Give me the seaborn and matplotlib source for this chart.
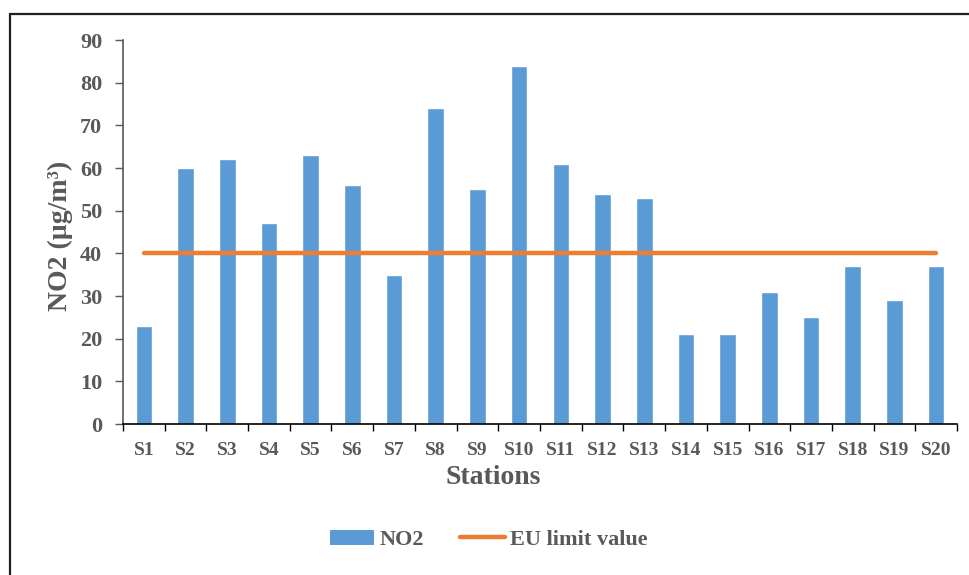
import numpy as np
import pandas as pd
import matplotlib
matplotlib.use("Agg")
import matplotlib.pyplot as plt
import seaborn as sns
from matplotlib.patches import Rectangle, Patch
from matplotlib.lines import Line2D

stations = ["S%d" % i for i in range(1, 21)]
no2 = [23, 60, 62, 47, 63, 56, 35, 74, 55, 84, 61, 54, 53, 21, 21, 31, 25, 37, 29, 37]
eu_limit = [40] * 20

df = pd.DataFrame({"station": stations, "no2": no2, "limit": eu_limit})

sns.set_style("white")
plt.rcParams["font.family"] = ["Liberation Serif", "DejaVu Serif"]
plt.rcParams["font.weight"] = "bold"

grey = "#595959"
blue = "#5B9BD5"
orange = "#ED7D31"

fig = plt.figure(figsize=(9.7, 5.75), dpi=100)
ax = fig.add_axes([0.1268, 0.2626, 0.8598, 0.6678])

sns.barplot(data=df, x="station", y="no2", color=blue, width=0.4, saturation=1, ax=ax)
ax.plot(np.arange(len(stations)), df["limit"], color=orange, lw=3.2,
        solid_capstyle="round", zorder=3)

ax.set_ylim(0, 90)
ax.set_xlim(-0.5, len(stations) - 0.5)
ax.set_yticks(np.arange(0, 91, 10))
ax.tick_params(axis="y", length=6, width=1, color=grey, labelsize=16, labelcolor=grey, pad=9, left=True)
for t in ax.get_yticklabels():
    t.set_fontweight("bold")

# category labels centered, ticks between categories
ax.set_xticks(np.arange(len(stations)))
ax.set_xticklabels(stations, fontweight="bold")
ax.tick_params(axis="x", which="major", length=0, labelsize=14, labelcolor=grey, pad=13)
ax.set_xticks(np.arange(-0.5, len(stations)), minor=True)
ax.tick_params(axis="x", which="minor", length=5, width=1, color="black", bottom=True)

for s in ["top", "right"]:
    ax.spines[s].set_visible(False)
ax.spines["left"].set_color(grey)
ax.spines["left"].set_linewidth(1.2)
ax.spines["bottom"].set_color("black")
ax.spines["bottom"].set_linewidth(1.2)

ax.set_xlabel("Stations", fontsize=20, fontweight="bold", color=grey)
ax.xaxis.set_label_coords(0.444, -0.108)
ax.set_ylabel("NO2 (µg/m³)", fontsize=20, fontweight="bold", color=grey)
ax.yaxis.set_label_coords(-0.06, 0.49)

handles = [Patch(facecolor=blue, edgecolor="none"),
           Line2D([0], [0], color=orange, lw=3.2, solid_capstyle="round")]
fig.legend(handles, ["NO2", "EU limit value"], loc="center", bbox_to_anchor=(0.504, 0.061),
           ncol=2, frameon=False, prop={"size": 16, "weight": "bold"},
           labelcolor=grey, handlelength=2.0, handleheight=0.65, columnspacing=1.6, handletextpad=0.25)

# outer frame of the original figure
fig.patches.append(Rectangle((10 / 970, -0.1), 1.2, 1 - 14 / 575 + 0.1, transform=fig.transFigure,
                             fill=False, edgecolor="#222222", lw=1.6, zorder=10))

fig.savefig("out.png", dpi=100)
